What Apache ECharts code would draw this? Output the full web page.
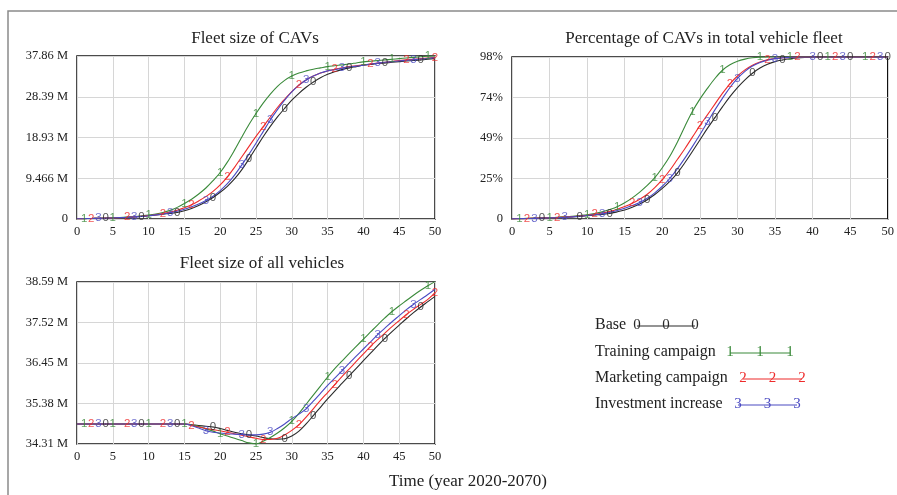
<!DOCTYPE html>
<html>
<head>
<meta charset="utf-8">
<script src="https://cdn.jsdelivr.net/npm/echarts@6/dist/echarts.min.js"></script>
<style>
html,body{margin:0;padding:0;background:#fff;}
#chart{width:897px;height:495px;}
</style>
</head>
<body>
<div id="chart"></div>
<script>
// ---------- DATA ----------
const years = Array.from({length: 51}, (_, i) => i); // time 0..50

// Fleet size of CAVs (million vehicles)
const cavBase = [0.05,0.08,0.12,0.16,0.2,0.25,0.3,0.38,0.47,0.6,0.75,0.92,1.12,1.3,1.5,1.9,2.45,3.15,4.0,5.0,6.2,7.6,9.3,11.4,13.9,16.5,19.1,21.5,23.7,25.7,27.6,29.2,30.6,31.8,32.8,33.6,34.2,34.7,35.1,35.4,35.7,35.9,36.1,36.25,36.4,36.55,36.7,36.8,36.95,37.1,37.3];
const cavTraining = [0.05,0.08,0.12,0.17,0.22,0.28,0.35,0.45,0.57,0.72,0.9,1.15,1.5,2.0,2.7,3.6,4.6,5.8,7.2,8.9,10.8,13.2,16.0,19.0,21.9,24.5,26.9,29.0,30.8,32.2,33.2,33.9,34.4,34.8,35.1,35.4,35.6,35.8,36.0,36.25,36.5,36.65,36.8,36.95,37.1,37.25,37.4,37.55,37.7,37.8,37.86];
const cavMarketing = [0.05,0.08,0.12,0.16,0.21,0.26,0.32,0.4,0.5,0.63,0.8,1.0,1.25,1.6,2.05,2.6,3.3,4.2,5.2,6.4,7.9,9.8,12.0,14.4,16.8,19.2,21.4,23.7,25.9,27.8,29.6,31.1,32.3,33.2,33.9,34.4,34.8,35.1,35.4,35.6,35.8,36.0,36.2,36.4,36.6,36.8,36.95,37.1,37.25,37.4,37.55];
const cavInvestment = [0.05,0.08,0.12,0.16,0.2,0.25,0.31,0.38,0.48,0.6,0.76,0.95,1.18,1.45,1.8,2.25,2.85,3.5,4.3,5.3,6.6,8.2,10.2,12.5,15.0,17.6,20.3,23.0,25.4,27.6,29.5,31.1,32.3,33.2,33.9,34.4,34.7,35.0,35.3,35.5,35.75,36.0,36.2,36.4,36.55,36.7,36.85,37.0,37.15,37.3,37.45];

// Percentage of CAVs in total vehicle fleet (%)
const pctBase = [0.1,0.2,0.3,0.4,0.5,0.7,0.9,1.1,1.3,1.6,2.0,2.4,2.8,3.3,4.3,5.5,7.1,9.1,11.7,14.8,18.5,22.8,27.8,34.0,40.8,47.8,54.8,61.3,67.8,74.0,79.5,84.2,88.2,91.3,93.6,95.2,96.2,96.9,97.4,97.7,97.9,98,98,98,98,98,98,98,98,98,98];
const pctTraining = [0.1,0.2,0.35,0.5,0.65,0.8,1.0,1.3,1.65,2.1,2.6,3.3,4.3,5.7,7.4,9.8,12.8,16.3,20.3,25.0,31.0,38.0,46.5,56.0,65.0,72.5,79.0,85.0,90.0,93.3,95.4,96.7,97.5,97.9,98,98,98,98,98,98,98,98,98,98,98,98,98,98,98,98,98];
const pctMarketing = [0.1,0.2,0.3,0.45,0.6,0.75,0.9,1.15,1.45,1.8,2.3,2.9,3.6,4.6,5.9,7.5,9.5,12.0,15.0,19.0,23.8,29.5,36.0,42.5,49.5,56.5,63.0,69.5,76.0,81.8,86.5,90.2,93.0,95.0,96.3,97.1,97.5,97.8,98,98,98,98,98,98,98,98,98,98,98,98,98];
const pctInvestment = [0.1,0.2,0.3,0.4,0.55,0.7,0.85,1.05,1.3,1.65,2.1,2.6,3.2,4.0,5.1,6.5,8.1,10.0,12.5,15.8,19.8,24.5,30.3,36.8,43.8,51.0,58.5,66.0,73.0,79.5,85.0,89.3,92.5,94.7,96.1,97.0,97.5,97.8,98,98,98,98,98,98,98,98,98,98,98,98,98];

// Fleet size of all vehicles (million vehicles)
const allBase = [34.84,34.84,34.84,34.84,34.84,34.84,34.84,34.84,34.84,34.84,34.84,34.84,34.84,34.84,34.84,34.84,34.82,34.8,34.78,34.76,34.72,34.67,34.62,34.58,34.55,34.52,34.48,34.45,34.44,34.45,34.52,34.65,34.84,35.06,35.28,35.5,35.71,35.91,36.11,36.31,36.51,36.71,36.91,37.1,37.28,37.45,37.62,37.78,37.93,38.07,38.21];
const allTraining = [34.84,34.84,34.84,34.84,34.84,34.84,34.84,34.84,34.84,34.84,34.84,34.84,34.84,34.84,34.84,34.84,34.81,34.77,34.71,34.65,34.58,34.52,34.46,34.4,34.34,34.31,34.38,34.48,34.6,34.74,34.91,35.12,35.36,35.6,35.84,36.08,36.3,36.5,36.7,36.89,37.08,37.27,37.46,37.64,37.81,37.96,38.1,38.24,38.37,38.49,38.6];
const allMarketing = [34.84,34.84,34.84,34.84,34.84,34.84,34.84,34.84,34.84,34.84,34.84,34.84,34.84,34.84,34.84,34.84,34.8,34.76,34.72,34.69,34.66,34.62,34.58,34.54,34.5,34.46,34.43,34.43,34.46,34.55,34.67,34.82,35.02,35.24,35.46,35.67,35.88,36.09,36.29,36.49,36.69,36.89,37.07,37.24,37.41,37.57,37.73,37.87,38.0,38.13,38.3];
const allInvestment = [34.84,34.84,34.84,34.84,34.84,34.84,34.84,34.84,34.84,34.84,34.84,34.84,34.84,34.84,34.84,34.84,34.8,34.73,34.66,34.62,34.6,34.58,34.57,34.56,34.55,34.55,34.57,34.62,34.72,34.84,34.98,35.1,35.24,35.44,35.65,35.86,36.05,36.24,36.44,36.63,36.82,37.01,37.2,37.37,37.54,37.7,37.86,38.0,38.13,38.26,38.4];

// Marker (numeral) positions along each line (time values)
const marksA = {
  base:       [4,9,14,19,24,29,33,38,43,48],
  training:   [1,5,10,15,20,25,30,35,40,44,49],
  marketing:  [2,7,12,16,21,26,31,36,41,46,50],
  investment: [3,8,13,18,23,27,32,37,42,47]
};
const marksB = {
  base:       [4,9,13,18,22,27,32,36,41,45,50],
  training:   [1,5,10,14,19,24,28,33,37,42,47],
  marketing:  [2,6,11,16,20,25,29,34,38,43,48],
  investment: [3,7,12,17,21,26,30,35,40,44,49]
};

// Tick labels
const xTicks = ['0','5','10','15','20','25','30','35','40','45','50'];
const yTicksCav = ['0','9.466 M','18.93 M','28.39 M','37.86 M'];
const yTicksPct = ['0','25%','49%','74%','98%'];
const yTicksAll = ['34.31 M','35.38 M','36.45 M','37.52 M','38.59 M'];

const scenarioNames = ['Base','Training campaign','Marketing campaign','Investment increase'];
const scenarioDigits = ['0','1','2','3'];

// ---------- STYLE ----------
const colors = {base:'#2a2a2a', training:'#3a8a3a', marketing:'#ee2b2b', investment:'#4a4ac2'};
const serif = '"Liberation Serif", "Times New Roman", serif';
const sans = '"Liberation Sans", Arial, sans-serif';
const keys = ['base','training','marketing','investment'];

const grids = [
  {left: 77, top: 56, width: 358, height: 163},
  {left: 512, top: 57, width: 381, height: 162},
  {left: 77, top: 282, width: 358, height: 162}
];
const yRanges = [
  {min: 0, max: 37.86, ticks: yTicksCav},
  {min: 0, max: 98, ticks: yTicksPct},
  {min: 34.31, max: 38.59, ticks: yTicksAll}
];
const seriesData = [
  {base: cavBase, training: cavTraining, marketing: cavMarketing, investment: cavInvestment},
  {base: pctBase, training: pctTraining, marketing: pctMarketing, investment: pctInvestment},
  {base: allBase, training: allTraining, marketing: allMarketing, investment: allInvestment}
];
const marksFor = [marksA, marksB, marksA];

const gridOpts = grids.map(g => Object.assign({show: true, borderColor: '#111', borderWidth: 1.5, backgroundColor: 'transparent'}, g));

const xAxes = grids.map((g, i) => ({
  type: 'value', gridIndex: i, min: 0, max: 50, interval: 5,
  axisLine: {show: false}, axisTick: {show: false},
  splitLine: {show: true, lineStyle: {color: '#d6d6d6', width: 1}},
  axisLabel: {
    fontFamily: serif, fontSize: 12.5, color: '#222', margin: 6,
    showMinLabel: true, showMaxLabel: true,
    formatter: v => xTicks[Math.round(v / 5)]
  }
}));

const yAxes = yRanges.map((r, i) => {
  const itv = (r.max - r.min) / 4;
  return {
    type: 'value', gridIndex: i, min: r.min, max: r.max, interval: itv,
    axisLine: {show: false}, axisTick: {show: false},
    splitLine: {show: true, lineStyle: {color: '#d6d6d6', width: 1}},
    axisLabel: {
      fontFamily: serif, fontSize: 12.5, color: '#222', margin: 9,
      showMinLabel: true, showMaxLabel: true,
      formatter: v => r.ticks[Math.round((v - r.min) / itv)] || ''
    }
  };
});

const series = [];
seriesData.forEach((set, gi) => {
  keys.forEach((k, ki) => {
    const vals = set[k];
    series.push({
      type: 'line', name: scenarioNames[ki], xAxisIndex: gi, yAxisIndex: gi,
      data: years.map(t => [t, vals[t]]),
      showSymbol: false, smooth: 0.35, z: 2 + ki,
      lineStyle: {color: colors[k], width: 1.1},
      itemStyle: {color: colors[k]},
      silent: true
    });
  });
  keys.forEach((k, ki) => {
    const vals = set[k];
    series.push({
      type: 'scatter', xAxisIndex: gi, yAxisIndex: gi,
      data: marksFor[gi][k].map(t => [t, vals[t]]),
      symbol: 'circle', symbolSize: 1, z: 10,
      itemStyle: {color: colors[k]},
      label: {show: true, position: 'inside', formatter: scenarioDigits[ki],
        color: colors[k], fontFamily: sans, fontSize: 11.5},
      silent: true
    });
  });
});

// Legend (drawn as text + sample line with numerals)
const legendItems = [
  {y: 325, x1: 637, x2: 695},
  {y: 352, x1: 730, x2: 790},
  {y: 378, x1: 743, x2: 802},
  {y: 404, x1: 738, x2: 797}
];
const graphics = [
  {type: 'rect', shape: {x: 8, y: 11, width: 1000, height: 600}, style: {fill: 'none', stroke: '#8a8a8a', lineWidth: 1.5}, silent: true},
  {type: 'text', x: 468, y: 482, style: {text: 'Time (year 2020-2070)', font: '17px ' + serif, fill: '#222', textAlign: 'center', textVerticalAlign: 'middle'}}
];
legendItems.forEach((it, i) => {
  const c = colors[keys[i]];
  graphics.push({type: 'text', x: 595, y: it.y, style: {text: scenarioNames[i], font: '16px ' + serif, fill: '#222', textAlign: 'left', textVerticalAlign: 'middle'}});
  graphics.push({type: 'line', shape: {x1: it.x1, y1: it.y + 1, x2: it.x2, y2: it.y + 1}, style: {stroke: c, lineWidth: 1.1}});
  [it.x1, (it.x1 + it.x2) / 2, it.x2].forEach(x => {
    graphics.push({type: 'text', x: x, y: it.y, style: {text: scenarioDigits[i], font: '15px ' + serif, fill: c, textAlign: 'center', textVerticalAlign: 'middle'}});
  });
});

const titleStyle = {fontFamily: serif, fontSize: 17, fontWeight: 'normal', color: '#222'};
const option = {
  animation: false,
  backgroundColor: '#fff',
  title: [
    {text: 'Fleet size of CAVs', left: 255, top: 30, textAlign: 'center', padding: 0, textStyle: titleStyle},
    {text: 'Percentage of CAVs in total vehicle fleet', left: 704, top: 30, textAlign: 'center', padding: 0, textStyle: titleStyle},
    {text: 'Fleet size of all vehicles', left: 262, top: 255, textAlign: 'center', padding: 0, textStyle: titleStyle}
  ],
  grid: gridOpts,
  xAxis: xAxes,
  yAxis: yAxes,
  series: series,
  graphic: graphics
};

const chart = echarts.init(document.getElementById('chart'), null, {renderer: 'canvas'});
chart.setOption(option);
</script>
</body>
</html>
